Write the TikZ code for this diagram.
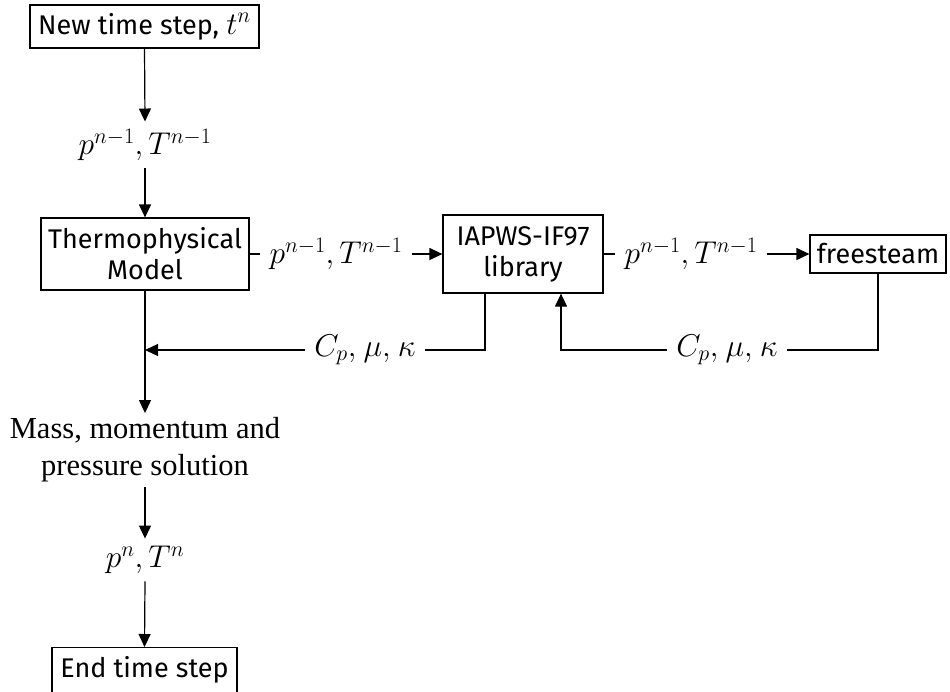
\documentclass[tikz,border=0pt]{standalone}
\usepackage{fix-cm}
\usepackage{fontspec}
\setmainfont{Fira Sans}
\newfontfamily\solfont{Liberation Serif}
\usetikzlibrary{arrows.meta}
% math set a little larger than the surrounding sans text
\newcommand\mth[1]{{\fontsize{31.5}{36}\selectfont$#1$}}
\begin{document}
\begin{tikzpicture}[x=1pt,y=1pt,
  line width=1.2pt,
  font=\fontsize{27}{31}\selectfont,
  procbox/.style={draw, align=center, inner sep=0pt},
  flowlabel/.style={inner xsep=9pt, inner ysep=7pt},
  flow/.style={-{Triangle[length=13pt,width=12pt]}},
  plain/.style={-}]
\useasboundingbox (0,0) rectangle (950,-691);

% main column
\node[procbox, minimum width=229pt, minimum height=43pt] (newstep) at (144.5,-26.5) {New time step, \mth{t^n}};
\node[flowlabel] (lab1) at (145,-145) {\mth{p^{n-1},T^{n-1}}};
\node[procbox, minimum width=208pt, minimum height=72pt] (thermo) at (145,-254) {Thermophysical\\Model};
\node[inner sep=4pt, align=center, font=\solfont\fontsize{30.5}{37}\selectfont] (mass) at (145,-450) {Mass, momentum and\\pressure solution};
\node[flowlabel] (lab6) at (145,-560) {\mth{p^n,T^n}};
\node[procbox, anchor=north, minimum width=185pt, text height=30pt, text depth=22pt] (endstep) at (144.5,-647) {End time step};

% property chain
\node[flowlabel] (lab2) at (336,-254) {\mth{p^{n-1},T^{n-1}}};
\node[procbox, minimum width=160pt, minimum height=78pt] (iapws) at (523,-254) {IAPWS-IF97\\library};
\node[flowlabel] (lab3) at (691,-254) {\mth{p^{n-1},T^{n-1}}};
\node[procbox, minimum width=136pt, minimum height=38pt] (free) at (878,-254) {freesteam};

% returned properties
\node[flowlabel] (lab4) at (727,-350) {\mth{C_p,}~\mth{\mu,}~\mth{\kappa}};
\node[flowlabel] (lab5) at (365,-350) {\mth{C_p,}~\mth{\mu,}~\mth{\kappa}};
\coordinate (fcorner) at (878,-350);
\coordinate (icorner) at (561,-350);
\coordinate (iout) at (485,-350);
\coordinate (tjoin) at (145,-350);

% connectors
\draw[flow] (newstep.south) -- (lab1.north);
\draw[flow] (lab1.south) -- (thermo.north);
\draw[plain] (thermo.east) -- (lab2.west);
\draw[flow] (lab2.east) -- (iapws.west);
\draw[plain] (iapws.east) -- (lab3.west);
\draw[flow] (lab3.east) -- (free.west);
\draw[plain] (free.south) -- (fcorner) -- (lab4.east);
\draw[flow] (lab4.west) -- (icorner) -- (icorner |- iapws.south);
\draw[plain] (iout |- iapws.south) -- (iout) -- (lab5.east);
\draw[flow] (lab5.west) -- (tjoin);
\draw[flow] (thermo.south) -- (mass.north);
\draw[flow] (mass.south) -- (lab6.north);
\draw[flow] (lab6.south) -- (endstep.north);
\end{tikzpicture}
\end{document}
